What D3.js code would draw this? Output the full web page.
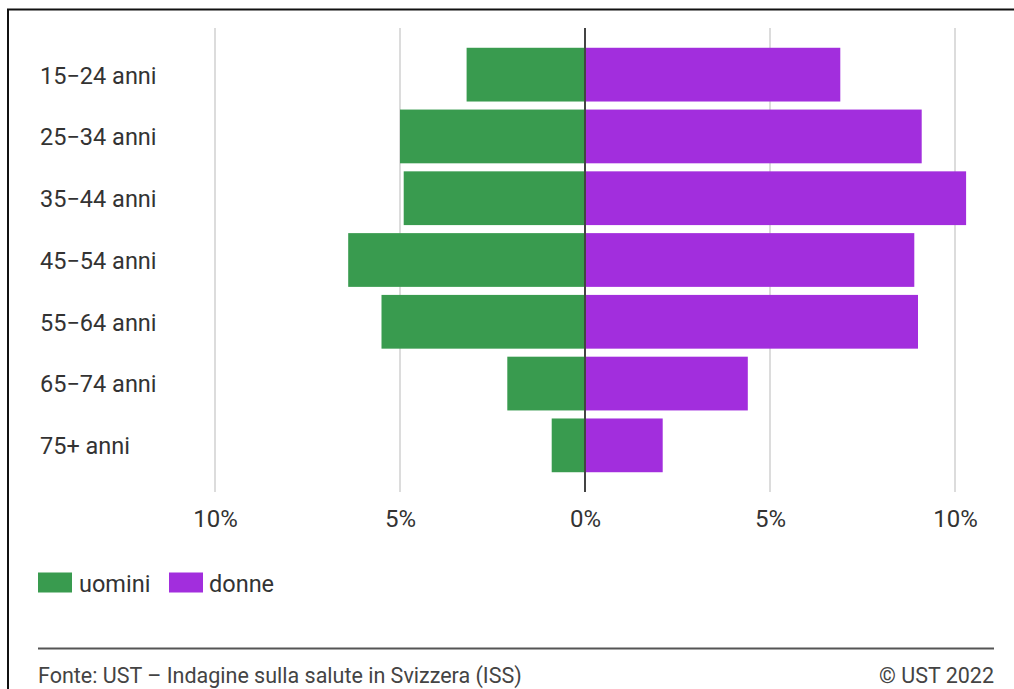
<!DOCTYPE html>
<html><head><meta charset="utf-8">
<script src="https://cdn.jsdelivr.net/npm/d3@7"></script>
<style>
html,body{margin:0;padding:0;background:#fff;}
svg{display:block;font-family:Roboto,"Noto Sans",sans-serif;}
</style></head>
<body>
<svg id="c" width="1014" height="689"></svg>
<script>
const categories = ["15−24 anni","25−34 anni","35−44 anni","45−54 anni","55−64 anni","65−74 anni","75+ anni"];
const uomini = [3.2, 5.0, 4.9, 6.4, 5.5, 2.1, 0.9];
const donne  = [6.9, 9.1, 10.3, 8.9, 9.0, 4.4, 2.1];
const tickValues = [-10, -5, 0, 5, 10];
const seriesNames = ["uomini", "donne"];
const colors = ["#399b4f", "#a22edd"];
const sourceText = "Fonte: UST – Indagine sulla salute in Svizzera (ISS)";
const copyrightText = "© UST 2022";

const svg = d3.select("#c");
// frame
svg.append("path").attr("d","M8,1000 L8,9.5 L1014,9.5").attr("fill","none").attr("stroke","#111").attr("stroke-width",2);

const x = d3.scaleLinear().domain([-10,10]).range([215,955]);
const y = d3.scaleBand().domain(categories).range([28,492]).paddingInner(0.13).paddingOuter(0.32);

// grid
svg.append("g").selectAll("line").data(tickValues.filter(d=>d!==0)).join("line")
  .attr("x1",d=>x(d)).attr("x2",d=>x(d)).attr("y1",28).attr("y2",492)
  .attr("stroke","#dcdcdc").attr("stroke-width",2);

// bars
svg.append("g").selectAll("rect").data(categories).join("rect")
  .attr("x",(d,i)=>x(-uomini[i])).attr("width",(d,i)=>x(0)-x(-uomini[i]))
  .attr("y",d=>y(d)).attr("height",y.bandwidth()).attr("fill",colors[0]);
svg.append("g").selectAll("rect").data(categories).join("rect")
  .attr("x",x(0)).attr("width",(d,i)=>x(donne[i])-x(0))
  .attr("y",d=>y(d)).attr("height",y.bandwidth()).attr("fill",colors[1]);

// zero line
svg.append("line").attr("x1",x(0)).attr("x2",x(0)).attr("y1",28).attr("y2",492)
  .attr("stroke","#444").attr("stroke-width",2);

// category labels
svg.append("g").selectAll("text").data(categories).join("text")
  .attr("x",40).attr("y",d=>y(d)+y.bandwidth()/2).attr("dy","0.38em")
  .attr("font-size",23.5).attr("fill","#333").text(d=>d);

// x axis
const xAxis = d3.axisBottom(x).tickValues(tickValues).tickSize(0).tickPadding(0).tickFormat(d=>Math.abs(d)+"%");
const ax = svg.append("g").attr("transform","translate(0,510)").call(xAxis);
ax.select(".domain").remove();
ax.selectAll("text").attr("font-size",24).attr("fill","#333").attr("font-family","Roboto");

// legend
const lg = svg.append("g");
[[38,79],[169,209]].forEach((p,i)=>{
  lg.append("rect").attr("x",p[0]).attr("y",572.5).attr("width",34).attr("height",20).attr("fill",colors[i]);
  lg.append("text").attr("x",p[1]).attr("y",591.5).attr("font-size",23.5).attr("fill","#333").text(seriesNames[i]);
});

// footer
svg.append("line").attr("x1",38).attr("x2",994).attr("y1",648.5).attr("y2",648.5).attr("stroke","#555").attr("stroke-width",2);
svg.append("text").attr("x",38).attr("y",683).attr("font-size",21.5).attr("fill","#444").text(sourceText);
svg.append("text").attr("x",994).attr("y",683).attr("text-anchor","end").attr("font-size",21.5).attr("fill","#444").text(copyrightText);
</script>
</body></html>
